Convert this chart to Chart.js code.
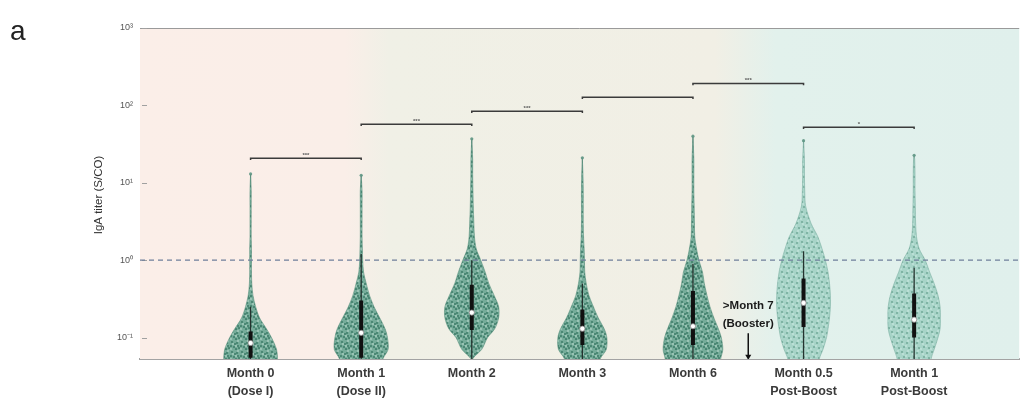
<!DOCTYPE html>
<html>
<head>
<meta charset="utf-8">
<script src="https://cdn.jsdelivr.net/npm/chart.js@4.4.1/dist/chart.umd.min.js"></script>
<style>
  html, body { margin: 0; padding: 0; background: #ffffff; }
  #wrap { width: 1024px; height: 401px; }
</style>
</head>
<body>
<div id="wrap"><canvas id="c" width="1024" height="401"></canvas></div>
<script>
// ---- categories and axis labels ----
const categories = [
  ['Month 0', '(Dose I)'],
  ['Month 1', '(Dose II)'],
  'Month 2',
  'Month 3',
  'Month 6',
  ['Month 0.5', 'Post-Boost'],
  ['Month 1', 'Post-Boost']
];
const yTickValues = [0.1, 1, 10, 100, 1000];
const yTickLabels = ['10\u207B\u00B9', '10\u2070', '10\u00B9', '10\u00B2', '10\u00B3'];
const yTitle = 'IgA titer (S/CO)';
const cutoff = 1;

// ---- per-group summary statistics (IgA titer, S/CO) ----
const medians   = [0.085, 0.115, 0.21, 0.13, 0.14, 0.28, 0.17];
const q1        = [0.055, 0.055, 0.125, 0.08, 0.08, 0.137, 0.10];
const q3        = [0.12, 0.30, 0.48, 0.23, 0.40, 0.58, 0.37];
const whiskerHi = [0.25, 1.2, 1.0, 0.5, 0.9, 1.3, 0.8];
const maxima    = [13, 12.5, 37, 21, 40, 35, 22.6];

// ---- kernel density (relative width) at fixed titer levels ----
const densityLevels = [0.04, 0.053, 0.07, 0.1, 0.13, 0.18, 0.25, 0.35, 0.5, 0.7, 1, 1.4, 2, 3, 5, 8, 13, 20, 40];
const densityM0   = [0.90, 0.90, 0.87, 0.70, 0.53, 0.30, 0.17, 0.08, 0.04, 0.03, 0.03, 0.03, 0.02, 0.02, 0.02, 0.02, 0.02, 0, 0];
const densityM1   = [0.73, 0.73, 0.90, 0.88, 0.80, 0.62, 0.43, 0.28, 0.17, 0.08, 0.05, 0.04, 0.03, 0.03, 0.03, 0.03, 0, 0, 0];
const densityM2   = [0, 0.03, 0.33, 0.53, 0.77, 0.90, 0.90, 0.75, 0.57, 0.45, 0.30, 0.15, 0.09, 0.07, 0.05, 0.04, 0.03, 0.03, 0];
const densityM3   = [0.60, 0.60, 0.80, 0.82, 0.73, 0.53, 0.37, 0.22, 0.13, 0.08, 0.07, 0.06, 0.04, 0.03, 0.03, 0.03, 0.02, 0, 0];
const densityM6   = [0.93, 0.93, 1.00, 0.95, 0.85, 0.70, 0.57, 0.47, 0.38, 0.32, 0.20, 0.12, 0.06, 0.05, 0.04, 0.03, 0.03, 0.03, 0];
const densityPB05 = [0.53, 0.53, 0.65, 0.77, 0.82, 0.87, 0.90, 0.90, 0.87, 0.82, 0.73, 0.62, 0.48, 0.25, 0.07, 0.04, 0.03, 0.03, 0];
const densityPB1  = [0.57, 0.57, 0.67, 0.80, 0.87, 0.88, 0.87, 0.80, 0.67, 0.52, 0.37, 0.17, 0.08, 0.05, 0.04, 0.03, 0.03, 0.02, 0];
const violinDensity = [densityM0, densityM1, densityM2, densityM3, densityM6, densityPB05, densityPB1];
const postBoost = [false, false, false, false, false, true, true];

// ---- pairwise comparisons ----
const bracketFrom  = [0, 1, 2, 3, 4, 5];
const bracketTo    = [1, 2, 3, 4, 5, 6];
const bracketLevel = [20.7, 57, 84, 127, 192, 52];
const bracketStars = ['***', '***', '***', '', '***', '*'];

// ---- booster annotation ----
const boosterX = 4.5;
const boosterLabel = ['>Month 7', '(Booster)'];
const boosterArrow = [0.114, 0.057];

// ================= drawing =================
const FONT = "'Liberation Sans', Arial, sans-serif";
const VIOLIN_HALF = 0.27;   // half-width (category units) for relative density 1

function makePattern(base, dark, light, nDark) {
  const p = document.createElement('canvas');
  p.width = 10; p.height = 10;
  const g = p.getContext('2d');
  g.fillStyle = base; g.fillRect(0, 0, 10, 10);
  const darkSpots = [[2, 2], [7, 3], [4, 7], [9, 8], [1, 6], [6, 9], [5, 4], [8, 6]];
  const lightSpots = [[3, 4], [8, 1], [6, 6], [1, 9]];
  g.fillStyle = dark;
  darkSpots.slice(0, nDark).forEach(([x, y]) => { g.beginPath(); g.arc(x, y, 1.1, 0, Math.PI * 2); g.fill(); });
  g.fillStyle = light;
  lightSpots.forEach(([x, y]) => { g.beginPath(); g.arc(x, y, 0.9, 0, Math.PI * 2); g.fill(); });
  return document.getElementById('c').getContext('2d').createPattern(p, 'repeat');
}
const earlyFill = makePattern('rgb(118,172,154)', 'rgb(66,128,108)', 'rgb(170,206,193)', 8);
const boostFill = makePattern('rgb(168,212,200)', 'rgb(118,172,156)', 'rgb(196,228,220)', 4);

function violinPoints(i) {
  const mx = maxima[i];
  const d = violinDensity[i];
  const lv = [];
  densityLevels.forEach((v, k) => { if (v < mx) lv.push([v, d[k]]); });
  lv.push([mx, 0]);
  const right = lv.map(([v, w]) => ({ x: i + w * VIOLIN_HALF, y: v }));
  const left = lv.slice().reverse().map(([v, w]) => ({ x: i - w * VIOLIN_HALF, y: v }));
  return right.concat(left);
}

const datasets = [];

// cutoff line
datasets.push({
  type: 'line', data: [{ x: -1, y: cutoff }, { x: 8, y: cutoff }],
  borderColor: '#6f7f9a', borderWidth: 1.2, borderDash: [5, 4], pointRadius: 0, order: 6, clip: 0
});

categories.forEach((_, i) => {
  // thin range line (full extent)
  datasets.push({
    type: 'line', data: [{ x: i, y: 0.04 }, { x: i, y: maxima[i] }],
    borderColor: 'rgba(110,135,128,0.85)', borderWidth: 1, pointRadius: 0, order: 8, clip: 0
  });
  // violin body
  datasets.push({
    type: 'line', data: violinPoints(i),
    backgroundColor: postBoost[i] ? boostFill : earlyFill,
    borderColor: postBoost[i] ? 'rgba(120,175,160,0.7)' : 'rgba(80,140,120,0.7)',
    borderWidth: 0.8, fill: 'shape', tension: 0.3, pointRadius: 0, order: 7, clip: 0
  });
  // whisker
  datasets.push({
    type: 'line', data: [{ x: i, y: 0.04 }, { x: i, y: whiskerHi[i] }],
    borderColor: '#24322e', borderWidth: 1.3, pointRadius: 0, order: 5, clip: 0
  });
  // interquartile box
  datasets.push({
    type: 'line', data: [{ x: i, y: q1[i] }, { x: i, y: q3[i] }],
    borderColor: '#111111', borderWidth: 4, borderCapStyle: 'butt', pointRadius: 0, order: 4, clip: 0
  });
});

// maxima markers
datasets.push({
  type: 'scatter', data: maxima.map((v, i) => ({ x: i, y: v })),
  pointRadius: 1.6, backgroundColor: 'rgba(95,150,132,0.9)', borderWidth: 0, order: 3
});
// medians
datasets.push({
  type: 'scatter', data: medians.map((v, i) => ({ x: i, y: v })),
  pointRadius: 2.6, backgroundColor: '#ffffff', borderColor: '#8a8a8a', borderWidth: 0.8, order: 2
});

// significance brackets
bracketFrom.forEach((a, k) => {
  const b = bracketTo[k], L = bracketLevel[k];
  datasets.push({
    type: 'line',
    data: [{ x: a, y: L * 0.95 }, { x: a, y: L }, { x: b, y: L }, { x: b, y: L * 0.95 }],
    borderColor: '#3b3b3b', borderWidth: 1.5, pointRadius: 0, order: 1, clip: false
  });
});

// booster arrow
datasets.push({
  type: 'line', data: [{ x: boosterX, y: boosterArrow[0] }, { x: boosterX, y: boosterArrow[1] }],
  borderColor: '#111111', borderWidth: 1.5, pointRadius: 0, order: 1, clip: false
});
datasets.push({
  type: 'scatter', data: [{ x: boosterX, y: boosterArrow[1] }],
  pointStyle: 'triangle', rotation: 180, pointRadius: 3.5, backgroundColor: '#111111', borderWidth: 0, order: 1
});

// shaded period background
const backdrop = {
  id: 'backdrop',
  beforeDatasetsDraw(chart) {
    const { ctx, chartArea: a, scales: { x } } = chart;
    const g = ctx.createLinearGradient(a.left, 0, a.right, 0);
    const stop = (v) => Math.min(1, Math.max(0, (x.getPixelForValue(v) - a.left) / (a.right - a.left)));
    g.addColorStop(0, 'rgb(251,238,232)');
    g.addColorStop(stop(0.85), 'rgb(250,238,232)');
    g.addColorStop(stop(1.25), 'rgb(240,240,230)');
    g.addColorStop(stop(4.2), 'rgb(241,239,229)');
    g.addColorStop(stop(4.75), 'rgb(226,241,236)');
    g.addColorStop(1, 'rgb(224,240,236)');
    ctx.save();
    ctx.fillStyle = g;
    ctx.fillRect(a.left, a.top, a.right - a.left, a.bottom - a.top);
    // top frame line
    ctx.strokeStyle = '#9a9a9a'; ctx.lineWidth = 1;
    ctx.beginPath(); ctx.moveTo(a.left, a.top + 0.5); ctx.lineTo(a.right, a.top + 0.5); ctx.stroke();
    // inner tick marks
    const y = chart.scales.y;
    ctx.strokeStyle = '#a0a0a0';
    yTickValues.forEach(v => {
      const py = Math.round(y.getPixelForValue(v)) + 0.5;
      ctx.beginPath(); ctx.moveTo(a.left + 2, py); ctx.lineTo(a.left + 7, py); ctx.stroke();
    });
    ctx.restore();
  }
};

// text overlays: panel letter, axis title, star labels, booster note
const overlays = {
  id: 'overlays',
  afterDatasetsDraw(chart) {
    const { ctx, scales: { x, y } } = chart;
    ctx.save();
    ctx.fillStyle = '#222222';
    ctx.font = '28px ' + FONT;
    ctx.textAlign = 'left'; ctx.textBaseline = 'alphabetic';
    ctx.fillText('a', 10, 40);

    ctx.save();
    ctx.translate(99, 195);
    ctx.rotate(-Math.PI / 2);
    ctx.font = '11.5px ' + FONT;
    ctx.fillStyle = '#333333';
    ctx.textAlign = 'center'; ctx.textBaseline = 'middle';
    ctx.fillText(yTitle, 0, 0);
    ctx.restore();

    ctx.font = 'bold 6px ' + FONT;
    ctx.fillStyle = '#5a5a5a';
    ctx.textAlign = 'center'; ctx.textBaseline = 'alphabetic';
    bracketFrom.forEach((a, k) => {
      if (!bracketStars[k]) return;
      const px = x.getPixelForValue((a + bracketTo[k]) / 2);
      const py = y.getPixelForValue(bracketLevel[k]);
      ctx.fillText(bracketStars[k], px, py - 1.5);
    });

    const ax = x.getPixelForValue(boosterX);
    const ay = y.getPixelForValue(boosterArrow[0]);
    ctx.font = 'bold 11.5px ' + FONT;
    ctx.fillStyle = '#1a1a1a';
    ctx.textBaseline = 'middle';
    ctx.fillText(boosterLabel[0], ax, ay - 27);
    ctx.fillText(boosterLabel[1], ax, ay - 9);
    ctx.restore();
  }
};

new Chart(document.getElementById('c'), {
  data: { datasets },
  plugins: [backdrop, overlays],
  options: {
    responsive: false,
    animation: false,
    layout: { padding: { top: 28, right: 2, left: 0, bottom: 0 } },
    plugins: { legend: { display: false }, tooltip: { enabled: false } },
    scales: {
      x: {
        type: 'linear', min: -1, max: 6.95,
        afterBuildTicks: (s) => { s.ticks = categories.map((_, i) => ({ value: i })); },
        afterFit: (s) => { s.height = 42; },
        ticks: {
          callback: (v) => categories[v] !== undefined ? categories[v] : '',
          font: { family: FONT, size: 12.5, weight: 'bold', lineHeight: 1.45 },
          color: '#3a3a3a', padding: 5, maxRotation: 0, autoSkip: false
        },
        grid: { display: false, drawTicks: false },
        border: { display: true, color: '#a3a3a3', width: 2 }
      },
      y: {
        type: 'logarithmic', min: 0.0528, max: 1000,
        afterBuildTicks: (s) => { s.ticks = yTickValues.map(v => ({ value: v })); },
        afterFit: (s) => { s.width = 140; },
        ticks: {
          callback: (v) => { const k = yTickValues.indexOf(v); return k >= 0 ? yTickLabels[k] : ''; },
          font: { family: FONT, size: 9 }, color: '#555555', padding: 7
        },
        grid: { display: false, drawTicks: false },
        border: { display: false }
      }
    }
  }
});
</script>
</body>
</html>
